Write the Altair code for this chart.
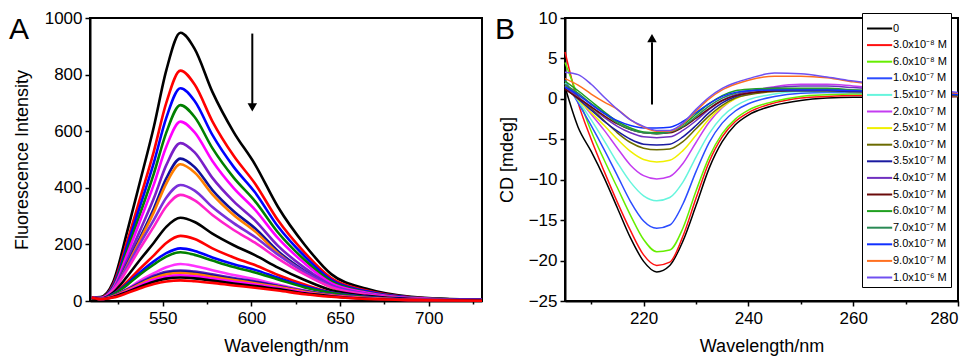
import altair as alt
import pandas as pd

# ---------------- Panel A: fluorescence spectra ----------------
FL_WL = [510, 515, 522, 530, 537, 545, 552, 560, 568, 578, 590, 602, 615, 630, 645, 665, 690, 730]
FL_C01 = [12, 14, 66, 246, 417, 616, 815, 948, 891, 739, 597, 483, 332, 199, 95, 43, 15, 4]
FL_C02 = [12, 12, 57, 212, 358, 529, 700, 814, 765, 635, 513, 415, 285, 171, 81, 37, 13, 3]
FL_C03 = [11, 11, 53, 196, 331, 489, 647, 752, 707, 587, 474, 384, 263, 158, 75, 34, 12, 3]
FL_C04 = [12, 11, 48, 180, 304, 450, 595, 692, 650, 540, 436, 353, 242, 145, 69, 31, 11, 3]
FL_C05 = [11, 10, 44, 165, 279, 412, 545, 634, 596, 495, 399, 323, 222, 133, 63, 29, 10, 3]
FL_C06 = [12, 10, 39, 145, 246, 363, 480, 558, 525, 435, 352, 285, 195, 117, 56, 25, 9, 2]
FL_C07 = [11, 9, 35, 131, 221, 327, 433, 503, 473, 392, 317, 257, 176, 106, 50, 23, 8, 2]
FL_C08 = [12, 9, 34, 126, 213, 314, 415, 483, 454, 377, 304, 246, 169, 101, 48, 22, 8, 2]
FL_C09 = [11, 9, 41, 121, 201, 287, 365, 410, 390, 332, 275, 226, 164, 103, 53, 25, 9, 4]
FL_C10 = [12, 9, 38, 111, 184, 263, 334, 375, 356, 304, 251, 206, 150, 94, 49, 23, 9, 3]
FL_C11 = [12, 8, 29, 87, 144, 206, 262, 294, 279, 238, 197, 162, 118, 74, 38, 18, 7, 3]
FL_C12 = [11, 8, 23, 68, 113, 161, 205, 230, 219, 186, 154, 127, 92, 58, 30, 14, 5, 2]
FL_C13 = [12, 8, 24, 61, 100, 140, 169, 186, 177, 154, 130, 110, 82, 52, 30, 15, 6, 3]
FL_C14 = [11, 7, 22, 57, 93, 129, 157, 172, 163, 143, 120, 101, 76, 48, 28, 13, 5, 2]
FL_C15 = [12, 7, 17, 43, 71, 98, 119, 131, 124, 109, 92, 77, 58, 37, 21, 10, 4, 2]
FL_C16 = [11, 7, 18, 41, 65, 89, 103, 108, 104, 94, 81, 69, 54, 36, 22, 11, 4, 2]
FL_C17 = [12, 7, 18, 40, 62, 85, 99, 104, 100, 90, 78, 67, 52, 34, 21, 10, 4, 2]
FL_C18 = [11, 7, 17, 38, 59, 81, 94, 99, 95, 86, 74, 63, 50, 33, 20, 10, 4, 2]
FL_C19 = [12, 6, 15, 35, 55, 75, 86, 91, 87, 79, 68, 58, 46, 30, 18, 9, 4, 2]
FL_C20 = [11, 6, 14, 32, 50, 68, 79, 83, 80, 72, 62, 53, 42, 27, 17, 8, 3, 2]
FL_C21 = [12, 6, 12, 28, 44, 60, 69, 73, 70, 64, 55, 47, 37, 24, 15, 7, 3, 1]
FL_CURVES = [FL_C01, FL_C02, FL_C03, FL_C04, FL_C05, FL_C06, FL_C07, FL_C08, FL_C09, FL_C10,
             FL_C11, FL_C12, FL_C13, FL_C14, FL_C15, FL_C16, FL_C17, FL_C18, FL_C19, FL_C20, FL_C21]
FL_COLORS = ["#000000", "#ff0000", "#0000ff", "#008000", "#ff00ff", "#7a1fc8", "#10109a", "#ff7f00",
             "#7a30d8", "#ff22cc", "#000000", "#ff0000", "#0000ff", "#008000", "#ff33ff", "#6020c0",
             "#10109a", "#ff7f00", "#ff00ff", "#000000", "#ff0000"]
FL_XTICKS = [525, 550, 575, 600, 625, 650, 675, 700, 725]
FL_YTICKS = [0, 100, 200, 300, 400, 500, 600, 700, 800, 900, 1000]
FL_ARROW_X = [600.5, 600.5]
FL_ARROW_Y = [945, 695]
FL_HEAD_Y = [684]

# ---------------- Panel B: CD spectra ----------------
CD_WL = [205, 207.5, 210, 212.5, 215, 217.5, 220, 222.5, 225, 227.5, 230, 232.5, 235, 237.5, 240,
         245, 250, 255, 260, 270, 280]
CD_LABELS = ["0", "3.0x10\u207b\u2078 M", "6.0x10\u207b\u2078 M", "1.0x10\u207b\u2077 M",
             "1.5x10\u207b\u2077 M", "2.0x10\u207b\u2077 M", "2.5x10\u207b\u2077 M", "3.0x10\u207b\u2077 M",
             "3.5x10\u207b\u2077 M", "4.0x10\u207b\u2077 M", "5.0x10\u207b\u2077 M", "6.0x10\u207b\u2077 M",
             "7.0x10\u207b\u2077 M", "8.0x10\u207b\u2077 M", "9.0x10\u207b\u2077 M", "1.0x10\u207b\u2076 M"]
CD_COLORS = ["#000000", "#ff1010", "#66ee00", "#2b4cff", "#66f5dd", "#c43cf0", "#f0f000", "#6b6b00",
             "#1a1aa0", "#7030c0", "#6a0a0a", "#20a020", "#2a8a55", "#1030ff", "#ff7020", "#7050f0"]
CD_B00 = [1.5, -3.5, -6.5, -9.8, -13.5, -17.2, -20.1, -21.4, -20.6, -17.6, -13.2, -8.6, -5.3, -3.2, -2.0, -0.8, -0.2, 0.1, 0.2, 0.2, 0.3]
CD_B01 = [5.8, -0.5, -5.0, -9.0, -12.8, -16.3, -19.3, -20.6, -20.2, -17.0, -12.3, -7.8, -4.7, -2.8, -1.7, -0.5, 0.1, 0.3, 0.4, 0.4, 0.3]
CD_B02 = [4.5, 0.3, -4.0, -7.6, -11.0, -14.4, -17.4, -18.9, -18.7, -16.0, -11.4, -7.2, -4.3, -2.5, -1.4, -0.3, 0.3, 0.5, 0.6, 0.5, 0.4]
CD_B03 = [2.3, -0.5, -3.3, -6.3, -9.5, -12.7, -15.1, -16.0, -15.6, -13.0, -9.0, -5.4, -3.0, -1.5, -0.6, 0.3, 0.7, 0.8, 0.8, 0.6, 0.4]
CD_B04 = [2.0, -0.2, -2.6, -5.2, -7.9, -10.3, -12.0, -12.6, -12.2, -10.3, -7.2, -4.3, -2.2, -0.9, -0.1, 0.6, 0.9, 0.9, 0.9, 0.7, 0.4]
CD_B05 = [1.8, 0.0, -1.9, -3.9, -6.1, -8.2, -9.5, -9.9, -9.6, -8.0, -5.4, -2.9, -1.1, 0.1, 0.8, 1.5, 1.8, 1.8, 1.6, 1.1, 0.6]
CD_B06 = [1.6, -0.1, -1.7, -3.3, -5.0, -6.5, -7.5, -7.8, -7.6, -6.4, -4.5, -2.5, -1.0, 0.0, 0.6, 1.0, 1.1, 1.0, 0.9, 0.7, 0.4]
CD_B07 = [1.8, 0.3, -1.2, -2.7, -4.2, -5.4, -6.1, -6.3, -6.2, -5.3, -3.7, -2.1, -0.8, 0.1, 0.5, 0.9, 1.0, 1.0, 0.9, 0.7, 0.4]
CD_B08 = [1.3, 0.0, -1.4, -2.8, -4.0, -5.0, -5.6, -5.7, -5.6, -4.7, -3.3, -1.7, -0.5, 0.3, 0.7, 1.0, 1.0, 1.0, 0.9, 0.7, 0.4]
CD_B09 = [1.5, 0.2, -1.0, -2.3, -3.4, -4.2, -4.7, -4.8, -4.7, -3.9, -2.7, -1.3, -0.2, 0.5, 0.9, 1.4, 1.6, 1.6, 1.4, 1.0, 0.6]
CD_B10 = [1.2, 0.1, -1.0, -2.1, -3.1, -3.8, -4.2, -4.3, -4.2, -3.5, -2.4, -1.2, -0.2, 0.4, 0.7, 1.0, 1.1, 1.1, 1.0, 0.7, 0.4]
CD_B11 = [2.2, 1.0, -0.3, -1.6, -2.8, -3.6, -4.1, -4.2, -4.0, -3.2, -1.9, -0.6, 0.4, 1.0, 1.2, 1.3, 1.3, 1.3, 1.1, 0.8, 0.5]
CD_B12 = [1.8, 0.7, -0.6, -1.8, -3.0, -3.8, -4.2, -4.3, -4.1, -3.4, -2.2, -0.9, 0.1, 0.7, 1.0, 1.2, 1.2, 1.2, 1.1, 0.8, 0.5]
CD_B13 = [1.5, 0.5, -0.7, -1.8, -2.7, -3.3, -3.6, -3.6, -3.5, -2.8, -1.7, -0.6, 0.3, 0.8, 1.0, 1.1, 1.1, 1.1, 1.0, 0.8, 0.5]
CD_B14 = [2.5, 1.7, 0.6, -0.4, -1.3, -2.6, -3.5, -4.0, -4.0, -3.1, -1.5, 0.0, 1.1, 1.8, 2.3, 2.8, 2.8, 2.6, 2.1, 1.3, 0.7]
CD_B15 = [3.3, 3.0, 1.8, 0.2, -1.3, -2.6, -3.4, -3.9, -3.9, -3.0, -1.3, 0.2, 1.3, 2.0, 2.5, 3.2, 3.1, 2.7, 2.2, 1.4, 0.8]
CD_CURVES = [CD_B00, CD_B01, CD_B02, CD_B03, CD_B04, CD_B05, CD_B06, CD_B07,
             CD_B08, CD_B09, CD_B10, CD_B11, CD_B12, CD_B13, CD_B14, CD_B15]
CD_XTICKS = [210, 220, 230, 240, 250, 260, 270, 280]
CD_YTICKS = [-25, -22.5, -20, -17.5, -15, -12.5, -10, -7.5, -5, -2.5, 0, 2.5, 5, 7.5, 10]
CD_ARROW_X = [221.6, 221.6]
CD_ARROW_Y = [-0.7, 7.0]
CD_HEAD_Y = [7.5]

FONT = "Liberation Sans"

# ---------------- build tables ----------------
rows_a = []
for i, ys in enumerate(FL_CURVES):
    for x, y in zip(FL_WL, ys):
        rows_a.append({"wl": x, "v": y, "s": i})
df_a = pd.DataFrame(rows_a)

rows_b = []
for i, ys in enumerate(CD_CURVES):
    for x, y in zip(CD_WL, ys):
        rows_b.append({"wl": x, "v": y, "s": CD_LABELS[i], "o": i})
df_b = pd.DataFrame(rows_b)


def major_minor(test):
    return dict(
        tickSize={"condition": {"test": test, "value": 5}, "value": 3},
        labelExpr=f"({test}) ? datum.label : ''",
    )


# ---------------- Panel A ----------------
xa_scale = alt.Scale(domain=[509, 730], nice=False, zero=False)
ya_scale = alt.Scale(domain=[0, 1000], nice=False)

lines_a = alt.Chart(df_a).mark_line(strokeWidth=2.6, interpolate="monotone").encode(
    x=alt.X("wl:Q", scale=xa_scale,
            axis=alt.Axis(values=FL_XTICKS, title="Wavelength/nm", labelPadding=4, titlePadding=11,
                          format="d", **major_minor("datum.value % 50 === 0"))),
    y=alt.Y("v:Q", scale=ya_scale,
            axis=alt.Axis(values=FL_YTICKS, title="Fluorescence Intensity", labelPadding=3,
                          titlePadding=13, format="d", **major_minor("datum.value % 200 === 0"))),
    color=alt.Color("s:N", scale=alt.Scale(domain=list(range(len(FL_COLORS))), range=FL_COLORS), legend=None),
    order=alt.Order("s:Q"),
)

arrow_a = alt.Chart(pd.DataFrame({"x": FL_ARROW_X, "y": FL_ARROW_Y})).mark_line(
    color="black", strokeWidth=2).encode(x=alt.X("x:Q", scale=xa_scale), y=alt.Y("y:Q", scale=ya_scale))
head_a = alt.Chart(pd.DataFrame({"x": FL_ARROW_X[:1], "y": FL_HEAD_Y})).mark_point(
    shape="triangle-down", filled=True, color="black", size=90, opacity=1).encode(
    x=alt.X("x:Q", scale=xa_scale), y=alt.Y("y:Q", scale=ya_scale))

label_a = alt.Chart(pd.DataFrame({"t": ["A"]})).mark_text(
    font=FONT, fontSize=30, align="left", baseline="alphabetic", color="black").encode(
    text="t:N", x=alt.value(-81), y=alt.value(21))

panel_a = alt.layer(lines_a, arrow_a, head_a, label_a).properties(width=392, height=283)

# ---------------- Panel B ----------------
xb_scale = alt.Scale(domain=[205, 280], nice=False, zero=False)
yb_scale = alt.Scale(domain=[-25, 10], nice=False, zero=False)

lines_b = alt.Chart(df_b).mark_line(strokeWidth=1.5, interpolate="monotone").encode(
    x=alt.X("wl:Q", scale=xb_scale,
            axis=alt.Axis(values=CD_XTICKS, title="Wavelength/nm", labelPadding=4, titlePadding=11,
                          format="d", **major_minor("datum.value % 20 === 0"))),
    y=alt.Y("v:Q", scale=yb_scale,
            axis=alt.Axis(values=CD_YTICKS, title="CD [mdeg]", labelPadding=3, titlePadding=12,
                          format="d", **major_minor("datum.value % 5 === 0"))),
    color=alt.Color("s:N", scale=alt.Scale(domain=CD_LABELS, range=CD_COLORS),
                    sort=CD_LABELS,
                    legend=alt.Legend(title=" ", titleFontSize=4, titlePadding=2,
                                      orient="none", legendX=297, legendY=-5,
                                      symbolType="M-1,0L4.6,0", symbolSize=81, symbolStrokeWidth=2,
                                      labelOffset=16, labelFontSize=11, labelFont=FONT,
                                      labelColor="black", rowPadding=4.6, padding=4,
                                      strokeColor="black", fillColor="white", zindex=1)),
    detail="o:Q",
)

arrow_b = alt.Chart(pd.DataFrame({"x": CD_ARROW_X, "y": CD_ARROW_Y})).mark_line(
    color="black", strokeWidth=2).encode(x=alt.X("x:Q", scale=xb_scale), y=alt.Y("y:Q", scale=yb_scale))
head_b = alt.Chart(pd.DataFrame({"x": CD_ARROW_X[:1], "y": CD_HEAD_Y})).mark_point(
    shape="triangle-up", filled=True, color="black", size=90, opacity=1).encode(
    x=alt.X("x:Q", scale=xb_scale), y=alt.Y("y:Q", scale=yb_scale))

label_b = alt.Chart(pd.DataFrame({"t": ["B"]})).mark_text(
    font=FONT, fontSize=30, align="left", baseline="alphabetic", color="black").encode(
    text="t:N", x=alt.value(-70), y=alt.value(21))

panel_b = alt.layer(lines_b, arrow_b, head_b, label_b).properties(width=393, height=283)

chart = alt.hconcat(panel_a, panel_b, spacing=5).resolve_scale(color="independent").properties(
    padding={"left": 0, "top": 0, "right": 0, "bottom": 0}
).configure_view(stroke="black", strokeWidth=2).configure_axis(
    labelFont=FONT, titleFont=FONT, labelFontSize=17, titleFontSize=18, titleFontWeight="normal",
    labelColor="black", titleColor="black", tickColor="black", domainColor="black",
    domainWidth=2, tickWidth=1.5, grid=False
)

chart.save("out.html", embed_options={"renderer": "svg", "actions": False})
